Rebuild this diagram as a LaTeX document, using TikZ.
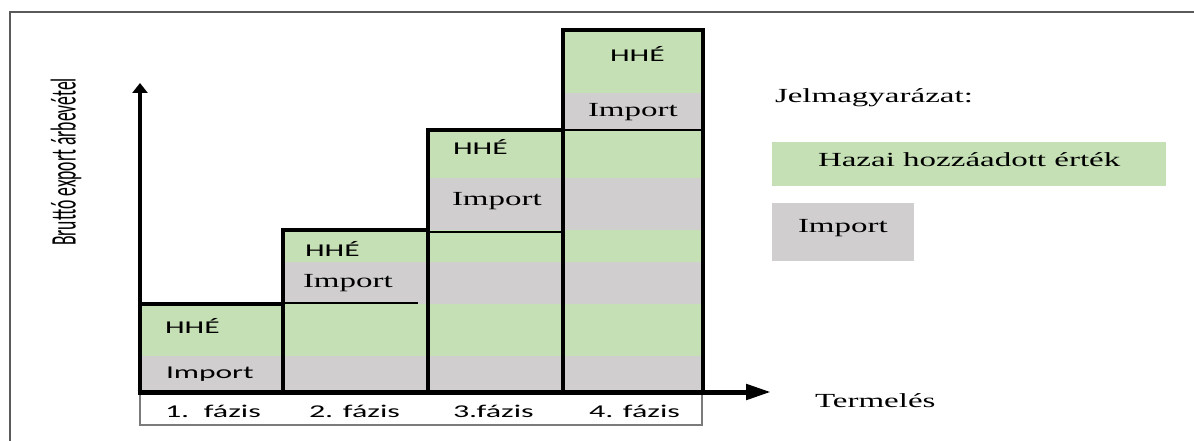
\documentclass[tikz,border=0pt]{standalone}
\usepackage{fontspec}
\usepackage{graphicx}
\usetikzlibrary{arrows.meta}
\newfontfamily\carl{Carlito}
\newfontfamily\tnr{Liberation Serif}
\definecolor{hgreen}{HTML}{C5E0B4}
\definecolor{hgray}{HTML}{D0CECE}
\definecolor{framegray}{HTML}{5A5A5A}
\newcommand\sanstxt[1]{\scalebox{1.75}[1]{\carl\fontsize{18}{20}\selectfont #1}}
\newcommand\phasetxt[1]{\scalebox{1.78}[1]{\carl\fontsize{18}{20}\selectfont #1}}
\newcommand\seriftxt[1]{\scalebox{1.65}[1]{\tnr\fontsize{20}{22}\selectfont #1}}
\begin{document}
\begin{tikzpicture}[x=1pt,y=-1pt,
  lbl/.style={anchor=base west, inner sep=0pt, outer sep=0pt},
  barline/.style={line width=4.8pt, line join=miter, line cap=butt},
  thinsep/.style={line width=1.5pt},
  axisline/.style={line width=5pt}]
\useasboundingbox (0,0) rectangle (1194,441);
% outer frame
\draw[framegray, line width=1.5pt] (10,441) -- (10,12) -- (1194,12);
% fills
\fill[hgreen] (140,304) rectangle (703,356);
\fill[hgray]  (140,356) rectangle (703,392);
\fill[hgreen] (283,230) rectangle (703,262);
\fill[hgray]  (283,262) rectangle (703,304);
\fill[hgreen] (428,130) rectangle (703,178);
\fill[hgray]  (428,178) rectangle (703,230);
\fill[hgreen] (563,30) rectangle (703,93);
\fill[hgray]  (563,93) rectangle (703,130);
% phase box
\draw[framegray!80, line width=1.3pt] (140,392) rectangle (702,425);
% thin separators
\draw[thinsep] (283,303) -- (418,303);
\draw[thinsep] (428,232) -- (563,232);
\draw[thinsep] (563,130) -- (703,130);
% bar outlines
\draw[barline] (140,392) -- (140,304) -- (283,304);
\draw[barline] (283,392) -- (283,230) -- (428,230);
\draw[barline] (428,392) -- (428,130) -- (563,130);
\draw[barline] (563,392) -- (563,30) -- (703,30) -- (703,392);
% axes
\coordinate (O) at (140,392);
\coordinate (ybase) at (140,306);
\coordinate (ytip) at (140,83);
\coordinate (xbase) at (137.6,392);
\coordinate (xtip) at (771,392);
\draw[line width=3.5pt, -{Triangle[length=10pt,width=15pt]}] (ybase) -- (ytip);
\draw[axisline, -{Triangle[length=25pt,width=15pt]}] (xbase) -- (xtip);
% bar labels
\node[lbl] (h1) at (165,333) {\sanstxt{HHÉ}};
\node[lbl] (i1) at (166,378) {\sanstxt{Import}};
\node[lbl] (h2) at (305,256) {\sanstxt{HHÉ}};
\node[lbl] (i2) at (303,287) {\seriftxt{Import}};
\node[lbl] (h3) at (453,155) {\sanstxt{HHÉ}};
\node[lbl] (i3) at (452,205) {\seriftxt{Import}};
\node[lbl] (h4) at (610,62) {\sanstxt{HHÉ}};
\node[lbl] (i4) at (588,117) {\seriftxt{Import}};
% phase labels
\node[lbl] (p1) at (165,417) {\phasetxt{1.\ \ fázis}};
\node[lbl] (p2) at (309,417) {\phasetxt{2. fázis}};
\node[lbl] (p3) at (453,417) {\phasetxt{3.fázis}};
\node[lbl] (p4) at (589,417) {\phasetxt{4. fázis}};
% axis labels
\node[lbl] (xl) at (815,407) {\seriftxt{Termelés}};
\node[rotate=90, inner sep=0pt] (yl) at (66,162) {\scalebox{0.98}[2.0]{\carl\fontsize{18}{20}\selectfont Bruttó export árbevétel}};
% legend
\fill[hgreen] (772,142) rectangle (1166,186);
\fill[hgray]  (772,203) rectangle (914,261);
\node[lbl] (lt) at (775,103) {\seriftxt{Jelmagyarázat:}};
\node[lbl] (lg) at (818,166) {\seriftxt{Hazai hozzáadott érték}};
\node[lbl] (li) at (798,232) {\seriftxt{Import}};
\end{tikzpicture}
\end{document}
